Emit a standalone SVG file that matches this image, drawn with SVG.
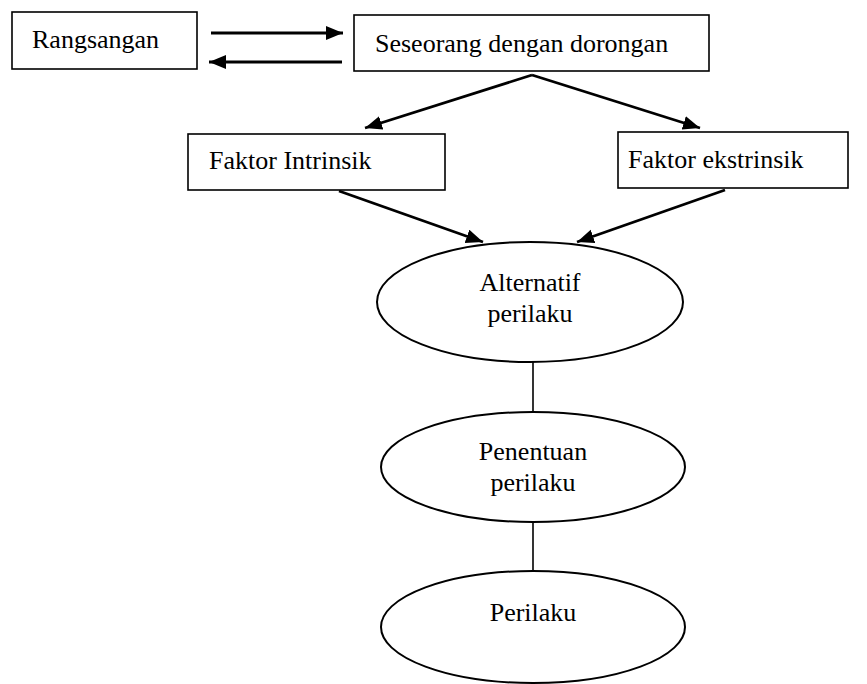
<svg xmlns="http://www.w3.org/2000/svg" width="867" height="684" viewBox="0 0 867 684">
<style>
.box{fill:#fff;stroke:#000;stroke-width:1.6}
.ell{fill:#fff;stroke:#000;stroke-width:2}
.c{text-anchor:middle}
.arr{stroke:#000;stroke-width:2.8;fill:none;marker-end:url(#ah)}
.ln{stroke:#000;stroke-width:1.6;fill:none}
</style>
<defs>
<marker id="ah" markerUnits="userSpaceOnUse" markerWidth="18" markerHeight="16" refX="17" refY="7" orient="auto">
<path d="M0,0 L17,7 L0,14 z" fill="#000"/>
</marker>
</defs>
<rect width="867" height="684" fill="#fff"/>
<g id="connectors">
<line class="arr" x1="211" y1="33" x2="343" y2="33"/>
<line class="arr" x1="342" y1="62" x2="209" y2="62"/>
<line class="arr" x1="532" y1="75" x2="365" y2="128"/>
<line class="arr" x1="532" y1="75" x2="700" y2="128"/>
<line class="arr" x1="339" y1="191" x2="483" y2="242"/>
<line class="arr" x1="725" y1="190" x2="577" y2="242"/>
<line class="ln" x1="533" y1="362" x2="533" y2="412"/>
<line class="ln" x1="533" y1="522" x2="533" y2="571"/>
</g>
<g font-family="'Liberation Serif', 'Times New Roman', 'DejaVu Serif', serif" font-size="26" fill="#000">
<g id="rangsangan">
<rect class="box" x="12" y="12" width="185" height="57"/>
<text x="32" y="48">Rangsangan</text>
</g>
<g id="seseorang">
<rect class="box" x="354" y="15" width="355" height="56"/>
<text x="375" y="52">Seseorang dengan dorongan</text>
</g>
<g id="intrinsik">
<rect class="box" x="188" y="134" width="257" height="56"/>
<text x="209" y="169">Faktor Intrinsik</text>
</g>
<g id="ekstrinsik">
<rect class="box" x="618" y="132" width="230" height="56"/>
<text x="628" y="168">Faktor ekstrinsik</text>
</g>
<g id="alternatif">
<ellipse class="ell" cx="530" cy="302" rx="153" ry="60"/>
<text class="c" x="530" y="291">Alternatif</text>
<text class="c" x="530" y="322">perilaku</text>
</g>
<g id="penentuan">
<ellipse class="ell" cx="533" cy="467" rx="152" ry="55"/>
<text class="c" x="533" y="460">Penentuan</text>
<text class="c" x="533" y="491">perilaku</text>
</g>
<g id="perilaku">
<ellipse class="ell" cx="533" cy="627" rx="152" ry="56"/>
<text class="c" x="533" y="621">Perilaku</text>
</g>
</g>
</svg>
